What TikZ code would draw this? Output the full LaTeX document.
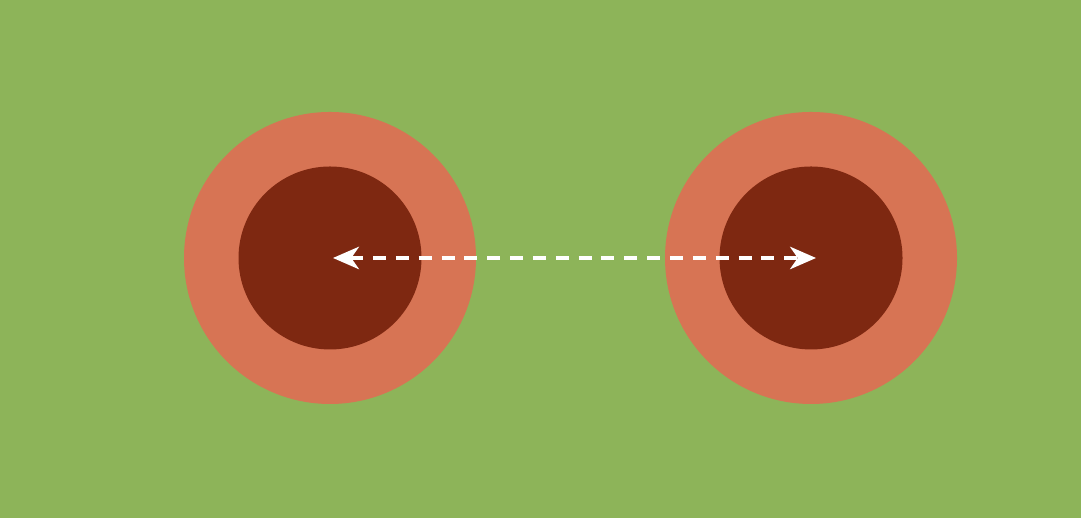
\documentclass[tikz,border=0pt]{standalone}
\usetikzlibrary{arrows.meta}

\definecolor{boardgreen}{RGB}{141,180,89}
\definecolor{padorange}{RGB}{215,116,84}
\definecolor{holebrown}{RGB}{126,40,17}

\begin{document}
\begin{tikzpicture}[
    pad/.style = {circle, fill = padorange, inner sep = 0pt, minimum size = 2.92cm},
    hole/.style = {circle, fill = holebrown, inner sep = 0pt, minimum size = 1.83cm},
    pitch/.style = {white, line width = 0.9pt, dash pattern = on 3.7pt off 2.8pt,
      {Stealth[length = 7.4pt, width = 6.4pt, inset = 2.2pt]}-{Stealth[length = 7.4pt, width = 6.4pt, inset = 2.2pt]}}
  ]

      \fill[boardgreen] (0, 0) rectangle (10.81, 5.18);
      \useasboundingbox (0, 0) rectangle (10.81, 5.18);

      \node[pad] (padL) at (3.30, 2.60) {};
      \node[pad] (padR) at (8.11, 2.60) {};
      \node[hole] (holeL) at (padL) {};
      \node[hole] (holeR) at (padR) {};

      \draw[pitch] ([xshift = 0.03cm] holeL.center) -- ([xshift = 0.05cm] holeR.center);

    \end{tikzpicture}
\end{document}
